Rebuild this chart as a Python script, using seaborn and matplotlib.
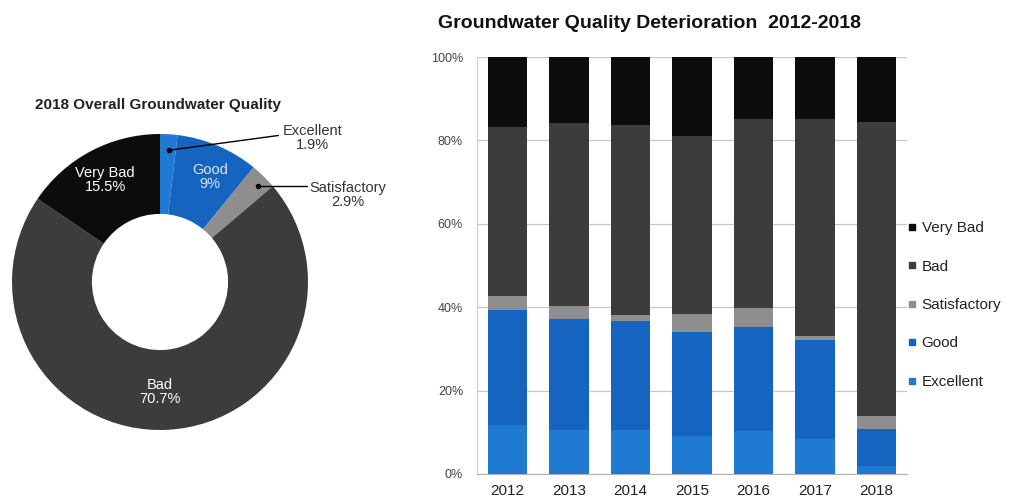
import numpy as np
import pandas as pd
import seaborn as sns
import matplotlib.pyplot as plt
from matplotlib.lines import Line2D

# bar chart data (% of wells)
years = ['2012', '2013', '2014', '2015', '2016', '2017', '2018']
excellent = [11.8, 10.5, 10.5, 9.0, 10.2, 8.4, 1.9]
good = [27.6, 26.7, 26.1, 25.0, 25.1, 23.7, 9.0]
satisfactory = [3.2, 3.0, 1.6, 4.4, 4.5, 1.1, 2.9]
bad = [40.5, 44.0, 45.6, 42.7, 45.3, 51.9, 70.7]
very_bad = [16.9, 15.8, 16.2, 18.9, 14.9, 14.9, 15.5]

# pie data (2018)
pie_labels = ['Excellent', 'Good', 'Satisfactory', 'Bad', 'Very Bad']
pie_values = [1.9, 9.0, 2.9, 70.7, 15.5]

cols = {'Excellent': '#1f7bd2', 'Good': '#1565c0', 'Satisfactory': '#8e8e8e',
        'Bad': '#3c3c3c', 'Very Bad': '#0c0c0c'}

sns.set_style('white')
plt.rcParams['font.family'] = ['Liberation Sans', 'DejaVu Sans']

fig = plt.figure(figsize=(10.17, 5.04), dpi=100)

# ---- donut ----
axp = fig.add_axes([12 / 1017, 74 / 504, 296 / 1017, 296 / 504])
axp.pie(pie_values, colors=[cols[k] for k in pie_labels], startangle=90,
        counterclock=False, radius=1, wedgeprops=dict(width=0.54, linewidth=0))
axp.set_xlim(-1, 1)
axp.set_ylim(-1, 1)
axp.set_aspect('equal')
axp.axis('off')
txt = dict(ha='center', va='center', fontsize=10.5, linespacing=1.0)
axp.text(-0.37, 0.69, 'Very Bad\n15.5%', color='white', **txt)
axp.text(0.34, 0.71, 'Good\n9%', color='#dbe6f5', **txt)
axp.text(0.0, -0.74, 'Bad\n70.7%', color='white', **txt)
axp.text(1.03, 0.97, 'Excellent\n1.9%', color='#333333', **txt)
axp.text(1.27, 0.59, 'Satisfactory\n2.9%', color='#333333', **txt)
axp.plot([0.06, 0.80], [0.89, 0.99], color='black', lw=1)
axp.plot([0.66, 0.99], [0.65, 0.65], color='black', lw=1)
axp.plot([0.06, 0.66], [0.89, 0.65], 'o', color='black', ms=3)
fig.text(158 / 1017, 1 - 105 / 504, '2018 Overall Groundwater Quality', ha='center', va='center',
         fontsize=11, fontweight='bold', color='#222222')

# ---- stacked bars ----
axb = fig.add_axes([477 / 1017, 30 / 504, 430 / 1017, 417 / 504])
df = pd.DataFrame({'year': years, 'Excellent': excellent, 'Good': good,
                   'Satisfactory': satisfactory, 'Bad': bad, 'Very Bad': very_bad})
order = ['Excellent', 'Good', 'Satisfactory', 'Bad', 'Very Bad']
cum = df[order].cumsum(axis=1)
for k in order[::-1]:
    sns.barplot(x=df['year'], y=cum[k], color=cols[k], width=0.64, saturation=1,
                linewidth=0, ax=axb, zorder=3)
axb.set_ylim(0, 100)
axb.set_xlim(-0.5, 6.5)
axb.set_yticks(range(0, 101, 20))
axb.set_yticklabels([f'{v}%' for v in range(0, 101, 20)])
axb.set_xlabel('')
axb.set_ylabel('')
axb.yaxis.grid(True, color='#c8c8c8', lw=0.9, zorder=0)
axb.tick_params(axis='y', length=0, pad=10, labelsize=9, labelcolor='#444444')
axb.tick_params(axis='x', length=0, pad=7, labelsize=11, labelcolor='#222222')
for s in ['top', 'right']:
    axb.spines[s].set_visible(False)
axb.spines['left'].set_color('#d0d0d0')
axb.spines['bottom'].set_color('#b0b0b0')
fig.text(649 / 1017, 1 - 24 / 504, 'Groundwater Quality Deterioration  2012-2018',
         ha='center', va='center', fontsize=14, fontweight='bold', color='#111111')

handles = [Line2D([], [], marker='s', ls='', color=cols[k], ms=5) for k in order[::-1]]
fig.legend(handles, order[::-1], loc='center left', bbox_to_anchor=(894 / 1017, 1 - 305 / 504),
           frameon=False, fontsize=11, handlelength=0.6, handletextpad=0.3,
           labelspacing=1.6, labelcolor='#222222')

fig.savefig('out.png', dpi=100)
